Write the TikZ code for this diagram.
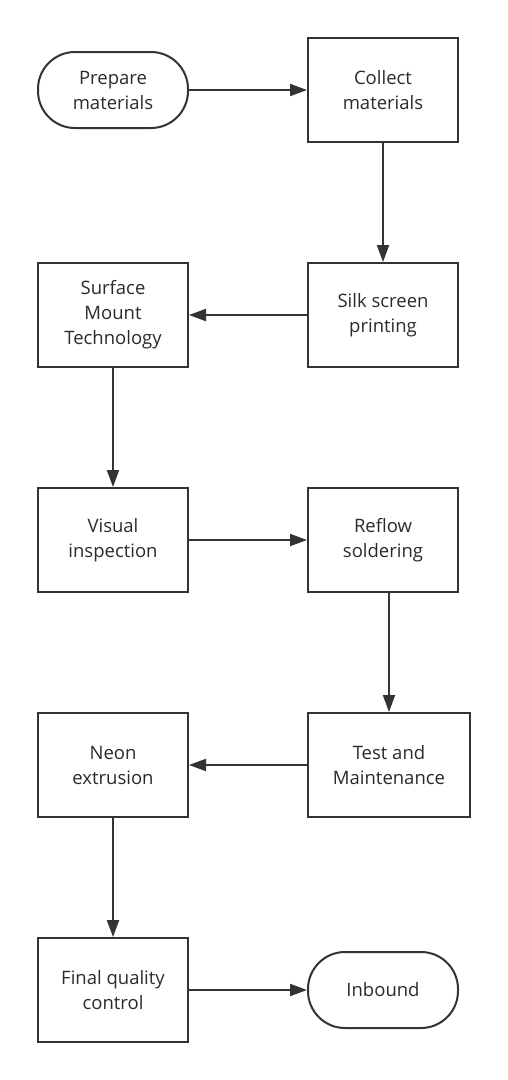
\documentclass[tikz,border=0pt]{standalone}
\usepackage{fontspec}
\setmainfont{Open Sans}
\usetikzlibrary{arrows.meta}
\definecolor{ln}{HTML}{333333}
\definecolor{tx}{HTML}{2a2a2a}
\begin{document}
\begin{tikzpicture}[x=1pt,y=-1pt,
  box/.style={draw=ln,line width=2pt,minimum width=150pt,minimum height=104pt,align=center,inner sep=0pt,text=tx,font=\fontsize{18.5}{25}\selectfont},
  term/.style={box,rounded corners=37pt,minimum height=76pt},
  conn/.style={draw=ln,line width=2pt,-{Triangle[length=17pt,width=12pt]}}]
\useasboundingbox (0,0) rectangle (508,1080);
\node[term] (prep) at (113,90) {Prepare\\materials};
\node[box] (coll) at (383,90) {Collect\\materials};
\node[box] (silk) at (383,315) {Silk screen\\printing};
\node[box] (smt) at (113,315) {Surface\\Mount\\Technology};
\node[box] (vis) at (113,540) {Visual\\inspection};
\node[box] (refl) at (383,540) {Reflow\\soldering};
\node[box,minimum width=162pt] (test) at (389,765) {Test and\\Maintenance};
\node[box] (neon) at (113,765) {Neon\\extrusion};
\node[box] (fin) at (113,990) {Final quality\\control};
\node[term] (inb) at (383,990) {Inbound};
\draw[conn] (prep) -- (coll);
\draw[conn] (coll) -- (silk);
\draw[conn] (silk) -- (smt);
\draw[conn] (smt) -- (vis);
\draw[conn] (vis) -- (refl);
\draw[conn] (test.north |- refl.south) -- (test.north);
\draw[conn] (test) -- (neon);
\draw[conn] (neon) -- (fin);
\draw[conn] (fin) -- (inb);
\end{tikzpicture}
\end{document}
